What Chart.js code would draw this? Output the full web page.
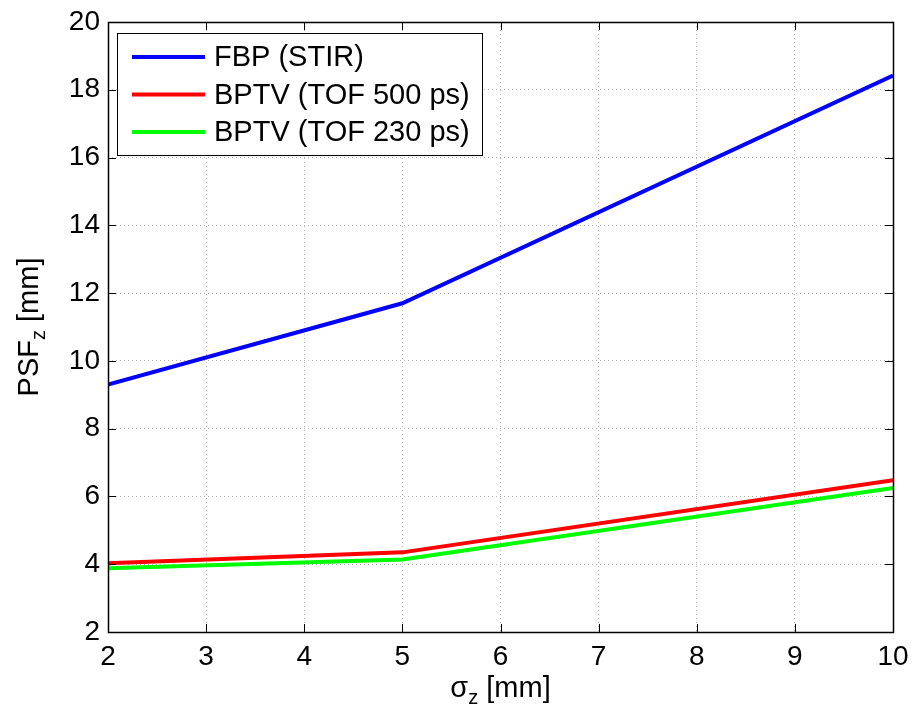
<!DOCTYPE html>
<html>
<head>
<meta charset="utf-8">
<script src="https://cdn.jsdelivr.net/npm/chart.js@4"></script>
<style>
  html, body { margin: 0; padding: 0; background: #fff; }
  #wrap { width: 912px; height: 716px; }
</style>
</head>
<body>
<div id="wrap"><canvas id="myChart" width="912" height="716"></canvas></div>
<script>
// dados
const sigmaZ = [2, 5, 10];
const fbpStir = [9.3, 11.7, 18.42];
const bptv500 = [4.03, 4.35, 6.48];
const bptv230 = [3.88, 4.14, 6.25];
const nomes = ['FBP (STIR)', 'BPTV (TOF 500 ps)', 'BPTV (TOF 230 ps)'];
const cores = ['#0000ff', '#ff0000', '#00ff00'];

const fonte = 'Liberation Sans, Arial, Helvetica, sans-serif';

function pontos(ys) {
    return sigmaZ.map((x, i) => ({ x: x, y: ys[i] }));
}

// caixa, ticks para dentro, legenda e titulos dos eixos (estilo matlab)
const estiloMatlab = {
    id: 'estiloMatlab',
    afterDatasetsDraw(chart) {
        const ctx = chart.ctx;
        const a = chart.chartArea;
        const xs = chart.scales.x, ys = chart.scales.y;
        ctx.save();
        ctx.strokeStyle = '#000';
        ctx.lineWidth = 1;
        ctx.beginPath();
        xs.ticks.forEach(t => {
            const px = Math.round(xs.getPixelForValue(t.value)) + 0.5;
            ctx.moveTo(px, a.bottom); ctx.lineTo(px, a.bottom - 8);
            ctx.moveTo(px, a.top); ctx.lineTo(px, a.top + 8);
        });
        ys.ticks.forEach(t => {
            const py = Math.round(ys.getPixelForValue(t.value)) + 0.5;
            ctx.moveTo(a.left, py); ctx.lineTo(a.left + 8, py);
            ctx.moveTo(a.right, py); ctx.lineTo(a.right - 8, py);
        });
        ctx.stroke();
        ctx.lineWidth = 1.5;
        ctx.strokeRect(Math.round(a.left) + 0.5, Math.round(a.top) + 0.5,
            Math.round(a.right - a.left), Math.round(a.bottom - a.top));

        // legenda
        const lx = a.left + 9, ly = a.top + 11, lw = 365, lh = 122;
        ctx.fillStyle = '#fff';
        ctx.fillRect(lx, ly, lw, lh);
        ctx.lineWidth = 1;
        ctx.strokeStyle = '#000';
        ctx.strokeRect(lx + 0.5, ly + 0.5, lw, lh);
        ctx.font = '29px ' + fonte;
        ctx.textBaseline = 'middle';
        ctx.textAlign = 'left';
        chart.data.datasets.forEach((ds, i) => {
            const ry = ly + 24 + i * 37.5;
            ctx.strokeStyle = ds.borderColor;
            ctx.lineWidth = 4;
            ctx.beginPath();
            ctx.moveTo(lx + 15, ry); ctx.lineTo(lx + 88, ry);
            ctx.stroke();
            ctx.fillStyle = '#000';
            ctx.fillText(ds.label, lx + 97, ry + 1);
        });

        // titulo x: sigma_z [mm]
        ctx.fillStyle = '#000';
        ctx.textBaseline = 'alphabetic';
        const big = '29px ' + fonte, small = '20px ' + fonte;
        ctx.font = big; const w1 = ctx.measureText('σ').width;
        ctx.font = small; const w2 = ctx.measureText('z').width;
        ctx.font = big; const w3 = ctx.measureText(' [mm]').width;
        let x0 = (a.left + a.right) / 2 - (w1 + w2 + w3) / 2;
        const by = 697;
        ctx.font = big; ctx.fillText('σ', x0, by);
        ctx.font = small; ctx.fillText('z', x0 + w1, by + 7);
        ctx.font = big; ctx.fillText(' [mm]', x0 + w1 + w2, by);

        // titulo y: PSF_z [mm]
        ctx.save();
        ctx.translate(38, (a.top + a.bottom) / 2);
        ctx.rotate(-Math.PI / 2);
        ctx.font = big; const v1 = ctx.measureText('PSF').width;
        ctx.font = small; const v2 = ctx.measureText('z').width;
        ctx.font = big; const v3 = ctx.measureText(' [mm]').width;
        x0 = -(v1 + v2 + v3) / 2;
        ctx.font = big; ctx.fillText('PSF', x0, 0);
        ctx.font = small; ctx.fillText('z', x0 + v1, 7);
        ctx.font = big; ctx.fillText(' [mm]', x0 + v1 + v2, 0);
        ctx.restore();

        ctx.restore();
    }
};

const dados = {
    datasets: [fbpStir, bptv500, bptv230].map((ys, i) => ({
        label: nomes[i],
        data: pontos(ys),
        borderColor: cores[i],
        backgroundColor: cores[i],
        borderWidth: 4,
        pointRadius: 0,
        tension: 0,
        fill: false,
    }))
};

const config = {
    type: 'line',
    data: dados,
    plugins: [estiloMatlab],
    options: {
        responsive: false,
        animation: false,
        layout: {
            padding: { top: 22, right: 19, left: 0, bottom: 0 }
        },
        scales: {
            x: {
                type: 'linear',
                min: 2,
                max: 10,
                afterFit: (s) => { s.height = 84; s.paddingLeft = 0; s.paddingRight = 0; },
                ticks: {
                    stepSize: 1,
                    padding: 8,
                    color: '#000',
                    maxRotation: 0,
                    font: { family: fonte, size: 28 },
                },
                grid: { color: '#b4b4b4', drawTicks: false, lineWidth: 1 },
                border: { display: false, dash: [1, 3] },
            },
            y: {
                min: 2,
                max: 20,
                afterFit: (s) => { s.width = 108; s.paddingTop = 0; s.paddingBottom = 0; },
                ticks: {
                    stepSize: 2,
                    padding: 8,
                    color: '#000',
                    font: { family: fonte, size: 28 },
                },
                grid: { color: '#b4b4b4', drawTicks: false, lineWidth: 1 },
                border: { display: false, dash: [1, 3] },
            }
        },
        plugins: {
            legend: { display: false },
            tooltip: { enabled: false },
        }
    }
};

const ctx = document.getElementById('myChart').getContext('2d');
new Chart(ctx, config);
</script>
</body>
</html>
